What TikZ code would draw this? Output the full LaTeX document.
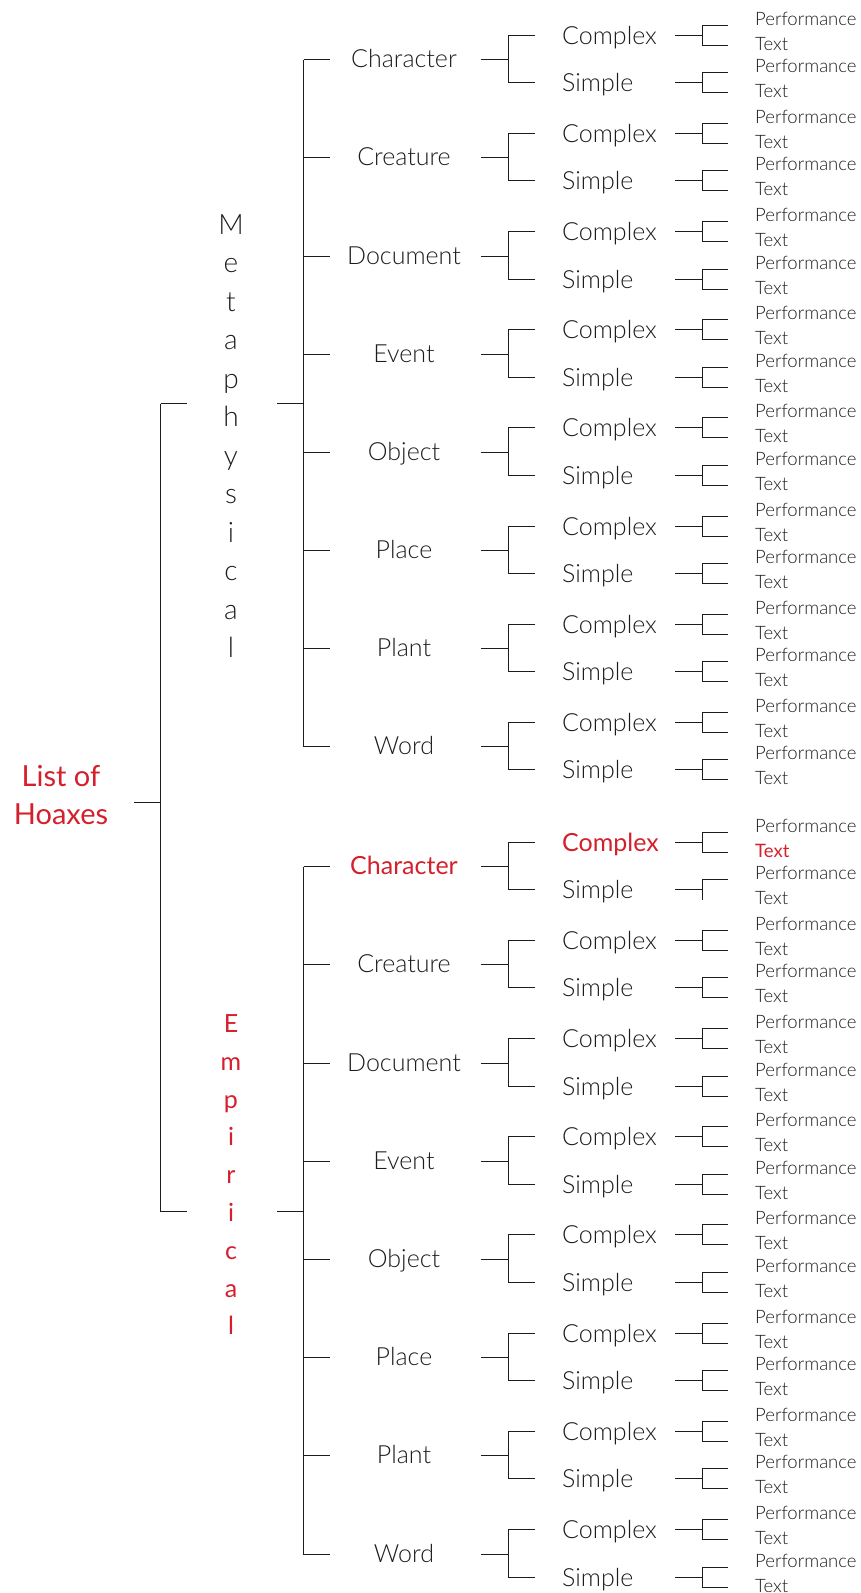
\documentclass[tikz,border=0pt]{standalone}
\usepackage{fontspec}
\IfFontExistsTF{Lato Light}{\setmainfont{Lato Light}}{\setmainfont{Lato}}
\newfontfamily\regfont{Lato}
\definecolor{hred}{RGB}{212,32,44}
\definecolor{ink}{RGB}{28,28,28}
\begin{document}
\begin{tikzpicture}[x=1pt,y=-1pt,
  link/.style={draw=ink, line width=1.2pt},
  root/.style={font=\regfont\fontsize{29}{34}\selectfont, text=hred, anchor=base, inner sep=0pt},
  cat/.style={font=\fontsize{25}{30}\selectfont, text=ink, anchor=base, inner sep=0pt},
  sub/.style={font=\fontsize{25}{30}\selectfont, text=ink, anchor=base west, inner sep=0pt},
  perf/.style={font=\fontsize{18.5}{22}\selectfont, text=ink, anchor=base west, inner sep=0pt},
  vlet/.style={font=\fontsize{28}{32}\selectfont, text=ink, anchor=base, inner sep=0pt},
  elet/.style={font=\regfont\fontsize{25}{30}\selectfont, text=hred, anchor=base, inner sep=0pt},
  hot/.style={text=hred, font=\regfont\fontsize{25}{30}\selectfont},
  hotperf/.style={text=hred, font=\regfont\fontsize{18.5}{22}\selectfont}]
\useasboundingbox (0,0) rectangle (861,1593);

% root label
\node[root] (root1) at (61,786.7) {List of};
\node[root] (root2) at (61,824) {Hoaxes};
\coordinate (root-stub) at (134,802.5);
\coordinate (root-bar) at (160.5,802.5);

% vertical group labels
\foreach \l [count=\k from 0] in {M,e,t,a,p,h,y,s,i,c,a,l}
  \node[vlet] (meta-\k) at (231,{234+38.5*\k}) {\l};
\foreach \l [count=\k from 0] in {E,m,p,i,r,i,c,a,l}
  \node[elet] (emp-\k) at (231,{1032.5+37.8*\k}) {\l};

\foreach \g/\gi/\base in {m/0/34.6, e/1/841.7} {
  \pgfmathsetmacro\ktop{round(\base+24.5)+0.5}
  \pgfmathsetmacro\kbot{round(\base+24.5+7*98.2)+0.5}
  \pgfmathsetmacro\kmid{round((\ktop+\kbot)/2)+0.5}
  \coordinate (\g-top) at (303.5,\ktop);
  \coordinate (\g-bot) at (303.5,\kbot);
  \coordinate (\g-mid) at (303.5,\kmid);
  \coordinate (\g-in) at (277,\kmid);
  \coordinate (root-\g) at (160.5,\kmid);
  \coordinate (root-\g-e) at (187,\kmid);
  \draw[link] (\g-top) -- (\g-bot);
  \draw[link] (\g-in) -- (\g-mid);
  \draw[link] (root-\g) -- (root-\g-e);
  \foreach \name [count=\i from 0] in {Character,Creature,Document,Event,Object,Place,Plant,Word} {
    \pgfmathsetmacro\yc{round(\base+98.2*\i)+0.5}
    \pgfmathsetmacro\ys{round(\base+98.2*\i+47.5)+0.5}
    \pgfmathsetmacro\yk{round(\base+98.2*\i+24.5)+0.5}
    \pgfmathtruncatemacro\hot{\gi*10+\i==10}
    \ifnum\hot=1 \tikzset{cs/.style={hot}}\else\tikzset{cs/.style={}}\fi
    \coordinate (\g-\i-t1) at (303.5,\yk);
    \coordinate (\g-\i-t2) at (330,\yk);
    \draw[link] (\g-\i-t1) -- (\g-\i-t2);
    \node[cat,cs] (\g-\i) at (404,{\yk+8}) {\name};
    \coordinate (\g-\i-j0) at (481,\yk);
    \coordinate (\g-\i-j1) at (508.5,\yk);
    \coordinate (\g-\i-cj) at (508.5,\yc);
    \coordinate (\g-\i-ce) at (535,\yc);
    \coordinate (\g-\i-sj) at (508.5,\ys);
    \coordinate (\g-\i-se) at (535,\ys);
    \draw[link] (\g-\i-j0) -- (\g-\i-j1);
    \draw[link] (\g-\i-ce) -- (\g-\i-cj) -- (\g-\i-sj) -- (\g-\i-se);
    \node[sub,cs] (\g-\i-c) at (562,{\yc+9}) {Complex};
    \node[sub] (\g-\i-s) at (562,{\ys+9}) {Simple};
    \foreach \r/\yy/\ri in {c/\yc/0, s/\ys/1} {
      \pgfmathtruncatemacro\hc{\hot*10+\ri==10}
      \pgfmathtruncatemacro\hs{\hot*10+\ri==11}
      \ifnum\hc=1 \tikzset{tcs/.style={hotperf}}\else\tikzset{tcs/.style={}}\fi
      \coordinate (\g-\i-\r-a) at (675,\yy);
      \coordinate (\g-\i-\r-b) at (702.5,\yy);
      \coordinate (\g-\i-\r-tb) at (702.5,{\yy-10});
      \coordinate (\g-\i-\r-ta) at (728,{\yy-10});
      \coordinate (\g-\i-\r-bb) at (702.5,{\yy+10});
      \coordinate (\g-\i-\r-ba) at (728,{\yy+10});
      \draw[link] (\g-\i-\r-a) -- (\g-\i-\r-b);
      \ifnum\hs=1
        \draw[link] (\g-\i-\r-ta) -- (\g-\i-\r-tb) -- (\g-\i-\r-bb);
      \else
        \draw[link] (\g-\i-\r-ta) -- (\g-\i-\r-tb) -- (\g-\i-\r-bb) -- (\g-\i-\r-ba);
      \fi
      \node[perf] (\g-\i-\r-p) at (755,{\yy-10}) {Performance};
      \node[perf,tcs] (\g-\i-\r-x) at (755,{\yy+15}) {Text};
    }
  }
}
\draw[link] (root-m) -- (root-e);
\draw[link] (root-stub) -- (root-bar);
\end{tikzpicture}
\end{document}
